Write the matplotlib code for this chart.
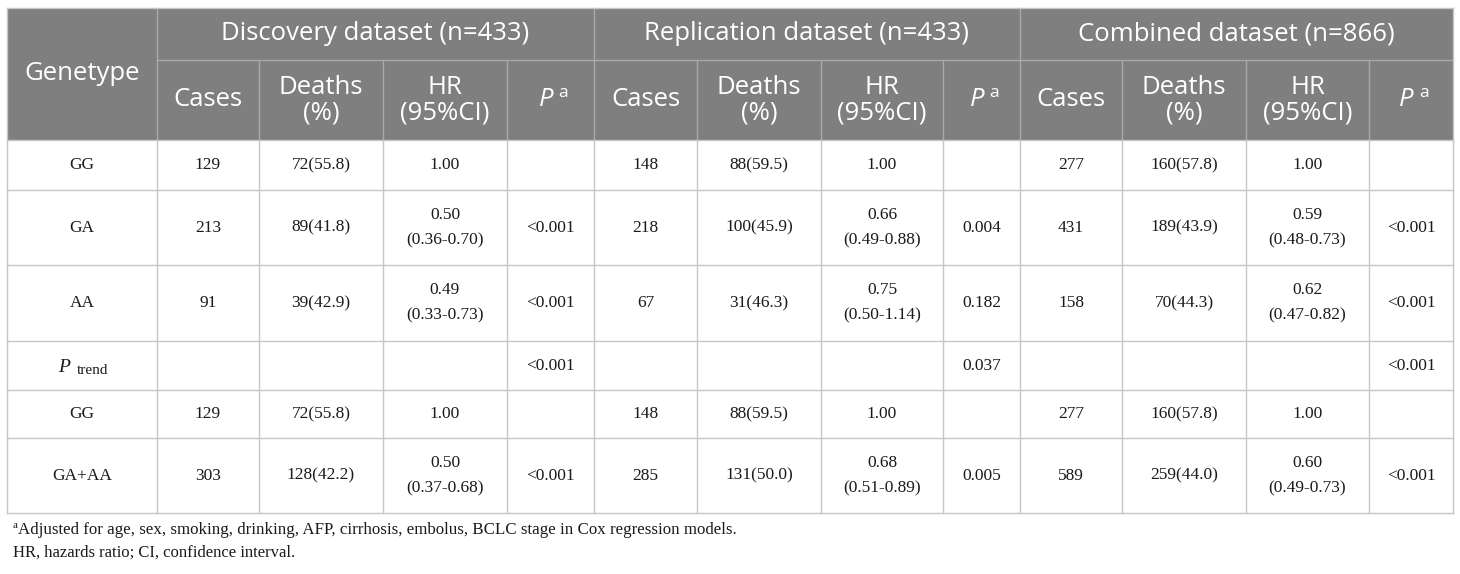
import matplotlib.pyplot as plt
from matplotlib.patches import Rectangle

# table content
groups = ["Discovery dataset (n=433)", "Replication dataset (n=433)", "Combined dataset (n=866)"]
sub_headers = [["Cases"], ["Deaths", "(%)"], ["HR", "(95%CI)"]]
genotypes = ["GG", "GA", "AA", "P_trend", "GG", "GA+AA"]

disc_cases = ["129", "213", "91", "", "129", "303"]
disc_deaths = ["72(55.8)", "89(41.8)", "39(42.9)", "", "72(55.8)", "128(42.2)"]
disc_hr = ["1.00", "0.50\n(0.36-0.70)", "0.49\n(0.33-0.73)", "", "1.00", "0.50\n(0.37-0.68)"]
disc_p = ["", "<0.001", "<0.001", "<0.001", "", "<0.001"]

rep_cases = ["148", "218", "67", "", "148", "285"]
rep_deaths = ["88(59.5)", "100(45.9)", "31(46.3)", "", "88(59.5)", "131(50.0)"]
rep_hr = ["1.00", "0.66\n(0.49-0.88)", "0.75\n(0.50-1.14)", "", "1.00", "0.68\n(0.51-0.89)"]
rep_p = ["", "0.004", "0.182", "0.037", "", "0.005"]

comb_cases = ["277", "431", "158", "", "277", "589"]
comb_deaths = ["160(57.8)", "189(43.9)", "70(44.3)", "", "160(57.8)", "259(44.0)"]
comb_hr = ["1.00", "0.59\n(0.48-0.73)", "0.62\n(0.47-0.82)", "", "1.00", "0.60\n(0.49-0.73)"]
comb_p = ["", "<0.001", "<0.001", "<0.001", "", "<0.001"]

footnote1 = "Adjusted for age, sex, smoking, drinking, AFP, cirrhosis, embolus, BCLC stage in Cox regression models."
footnote2 = "HR, hazards ratio; CI, confidence interval."

# layout in pixels
col_x = [7, 157, 259, 383, 507, 594, 697, 821, 943, 1020, 1122, 1246, 1369, 1453]
row_y = [8, 60, 140, 190, 265, 341, 390, 438, 513]

HEAD_BG = "#7f7f7f"
HEAD_LINE = "#a9a9a9"
GRID = "#c6c6c6"
HEAD_FONT = "Open Sans"
BODY_FONT = "Liberation Serif"
INK = "#1a1a1a"
HS = 18.5

fig = plt.figure(figsize=(14.6, 5.74), dpi=100)
ax = fig.add_axes([0, 0, 1, 1])
ax.set_xlim(0, 1460)
ax.set_ylim(574, 0)
ax.axis("off")


def lines_text(x, y, parts, gap, **kw):
    # stack the lines of a cell around its centre
    n = len(parts)
    for i, s in enumerate(parts):
        ax.text(x, y + (i - (n - 1) / 2) * gap, s, ha="center", va="center", **kw)


# header background
ax.add_patch(Rectangle((col_x[0], row_y[0]), col_x[-1] - col_x[0], row_y[2] - row_y[0],
                       facecolor=HEAD_BG, edgecolor="none"))

# header lines
ax.plot([col_x[1], col_x[-1]], [row_y[1], row_y[1]], color=HEAD_LINE, lw=1)
for i, x in enumerate(col_x[1:-1], start=1):
    top = row_y[0] if (i - 1) % 4 == 0 else row_y[1]
    ax.plot([x, x], [top, row_y[2]], color=HEAD_LINE, lw=1)

# body grid
for y in row_y[2:]:
    ax.plot([col_x[0], col_x[-1]], [y, y], color=GRID, lw=1)
for x in col_x:
    ax.plot([x, x], [row_y[2], row_y[-1]], color=GRID, lw=1)
ax.plot([col_x[0], col_x[0]], [row_y[0], row_y[2]], color=GRID, lw=1)
ax.plot([col_x[-1], col_x[-1]], [row_y[0], row_y[2]], color=GRID, lw=1)
ax.plot([col_x[0], col_x[-1]], [row_y[0], row_y[0]], color=GRID, lw=1)

# header text
ax.text((col_x[0] + col_x[1]) / 2, (row_y[0] + row_y[2]) / 2, "Genetype", color="white",
        fontsize=HS, family=HEAD_FONT, ha="center", va="center")
for g, name in enumerate(groups):
    x0 = col_x[1 + 4 * g]
    x1 = col_x[5 + 4 * g]
    ax.text((x0 + x1) / 2, (row_y[0] + row_y[1]) / 2, name, color="white",
            fontsize=HS, family=HEAD_FONT, ha="center", va="center")
    yc = (row_y[1] + row_y[2]) / 2
    for k, lab in enumerate(sub_headers):
        xc = (col_x[1 + 4 * g + k] + col_x[2 + 4 * g + k]) / 2
        lines_text(xc, yc, lab, 25, color="white", fontsize=HS, family=HEAD_FONT)
    xc = (col_x[4 + 4 * g] + col_x[5 + 4 * g]) / 2
    ax.text(xc + 3, yc, "P", color="white", fontsize=HS, family=HEAD_FONT,
            style="italic", ha="right", va="center")
    ax.text(xc + 8, yc - 7, "a", color="white", fontsize=12.5, family=HEAD_FONT,
            ha="left", va="center")

# body text
columns = [disc_cases, disc_deaths, disc_hr, disc_p,
           rep_cases, rep_deaths, rep_hr, rep_p,
           comb_cases, comb_deaths, comb_hr, comb_p]
for r in range(len(genotypes)):
    yc = (row_y[2 + r] + row_y[3 + r]) / 2
    xg = (col_x[0] + col_x[1]) / 2
    if genotypes[r] == "P_trend":
        ax.text(64, yc + 7, "P", fontsize=14, family=BODY_FONT, style="italic",
                ha="center", va="baseline", color=INK)
        ax.text(77, yc + 9, "trend", fontsize=11, family=BODY_FONT,
                ha="left", va="baseline", color=INK)
    else:
        ax.text(xg, yc, genotypes[r], fontsize=12.5, family=BODY_FONT,
                ha="center", va="center", color=INK)
    for c, col in enumerate(columns):
        xc = (col_x[1 + c] + col_x[2 + c]) / 2
        if col[r]:
            lines_text(xc, yc, col[r].split("\n"), 25, fontsize=12.5,
                       family=BODY_FONT, color=INK)

# footnotes
ax.text(13, 525, "a", fontsize=8, family=BODY_FONT, ha="left", va="center", color=INK)
ax.text(18, 530, footnote1, fontsize=12.2, family=BODY_FONT, ha="left", va="center", color=INK)
ax.text(13, 553, footnote2, fontsize=12, family=BODY_FONT, ha="left", va="center", color=INK)

fig.savefig("out.png", dpi=100, facecolor="white")
